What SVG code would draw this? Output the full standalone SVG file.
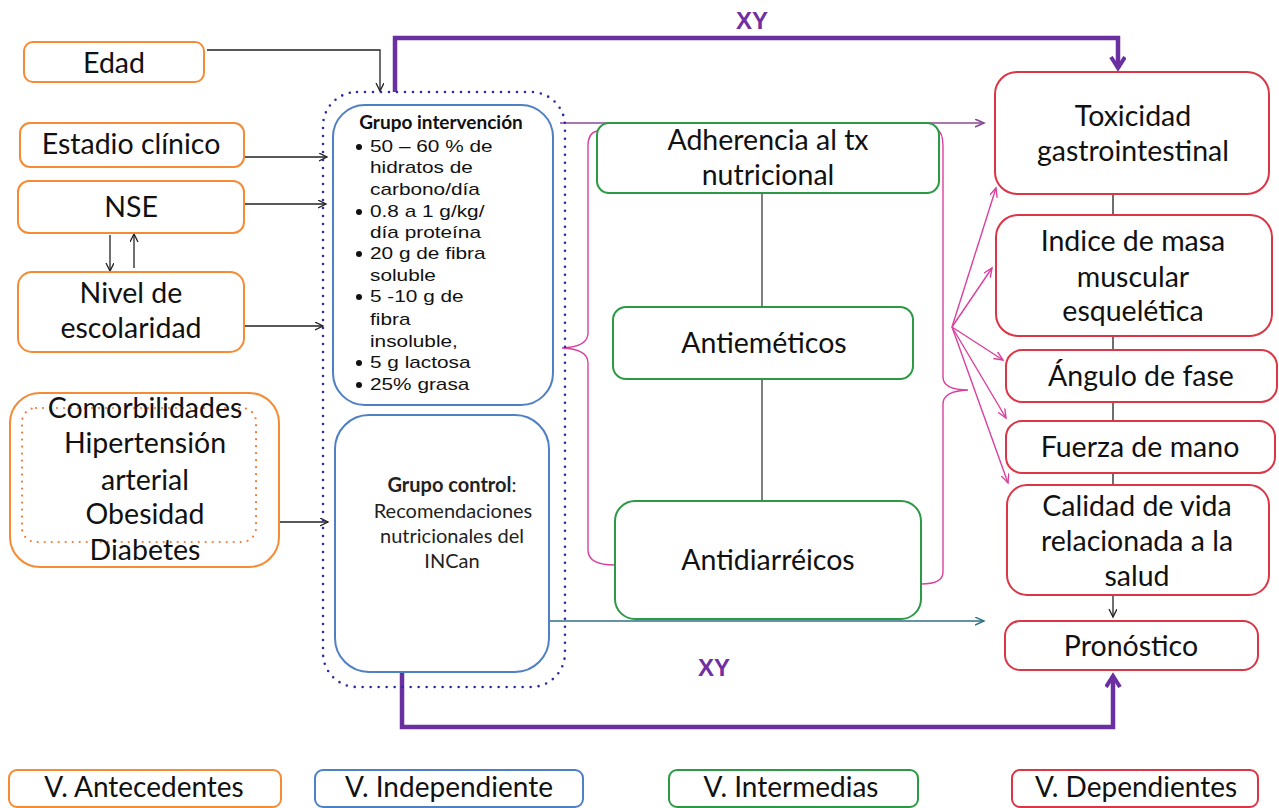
<svg xmlns="http://www.w3.org/2000/svg" width="1279" height="808" viewBox="0 0 1279 808">
<style>
.lbl{font-family:Lato,"Liberation Sans",sans-serif;font-size:28.5px;fill:#111;text-anchor:middle}
.leg{font-family:Lato,"Liberation Sans",sans-serif;font-size:28px;fill:#111;text-anchor:middle}
.bul{font-family:"Liberation Sans",Arial,sans-serif;font-size:16px;fill:#111}
.ctl{font-family:Lato,"Liberation Sans",sans-serif;font-size:20px;fill:#222;text-anchor:middle}
.xy{font-family:"Liberation Sans",Arial,sans-serif;font-size:24px;font-weight:bold;fill:#7030a0;text-anchor:middle}
.ora{fill:#fff;stroke:#f58b34;stroke-width:2}
.blu{fill:#fff;stroke:#4f7fc4;stroke-width:2}
.grn{fill:#fff;stroke:#2c9a45;stroke-width:2}
.red{fill:#fff;stroke:#dc3545;stroke-width:2}
.blk{fill:none;stroke:#222;stroke-width:1.3}
.gry{fill:none;stroke:#555;stroke-width:1.5}
.pnk{fill:none;stroke:#d9409e;stroke-width:1.4}
.thick{fill:none;stroke:#6a2fa0;stroke-width:4.5}
</style>
<defs>
<marker id="aBlk" markerWidth="10" markerHeight="10" refX="8" refY="4" orient="auto" markerUnits="userSpaceOnUse"><path d="M0,0 L8,4 L0,8" fill="none" stroke="#222" stroke-width="1.3"/></marker>
<marker id="aPnk" markerWidth="12" markerHeight="10" refX="9" refY="4" orient="auto" markerUnits="userSpaceOnUse"><path d="M0,0 L9,4 L0,8" fill="none" stroke="#d9409e" stroke-width="1.4"/></marker>
<marker id="aPur" markerWidth="12" markerHeight="10" refX="9" refY="4" orient="auto" markerUnits="userSpaceOnUse"><path d="M0,0 L9,4 L0,8" fill="none" stroke="#8a4a96" stroke-width="1.6"/></marker>
<marker id="aTea" markerWidth="12" markerHeight="10" refX="9" refY="4" orient="auto" markerUnits="userSpaceOnUse"><path d="M0,0 L9,4 L0,8" fill="none" stroke="#2f6f86" stroke-width="1.4"/></marker>
<marker id="aThk" markerWidth="20" markerHeight="20" refX="12" refY="8" orient="auto" markerUnits="userSpaceOnUse"><path d="M1,1 L12,8 L1,15" fill="none" stroke="#6a2fa0" stroke-width="4"/></marker>
</defs>

<g id="connectors">
  <path class="blk" d="M207,50 H380 V91" marker-end="url(#aBlk)"/>
  <path class="blk" d="M245,157 H327" marker-end="url(#aBlk)"/>
  <path class="blk" d="M245,204 H326" marker-end="url(#aBlk)"/>
  <path class="blk" d="M245,326 H323" marker-end="url(#aBlk)"/>
  <path class="blk" d="M279,522 H328" marker-end="url(#aBlk)"/>
  <path class="blk" d="M110,235 V271" marker-end="url(#aBlk)"/>
  <path class="blk" d="M134,268 V234" marker-end="url(#aBlk)"/>
  <path class="thick" d="M395,92 V38 H1118 V68" marker-end="url(#aThk)"/>
  <path class="thick" d="M402,673 V727 H1113 V676" marker-end="url(#aThk)"/>
  <path fill="none" stroke="#8a4a96" stroke-width="1.6" d="M560,123 H984" marker-end="url(#aPur)"/>
  <path fill="none" stroke="#2f6f86" stroke-width="1.4" d="M549,621 H984" marker-end="url(#aTea)"/>
  <path class="gry" d="M762,193 V307 M762,379 V501"/>
  <path class="pnk" d="M597,131 Q588,133 588,146 V333 Q588,347 562,348 Q588,349 588,363 V550 Q588,565 615,565"/>
  <path class="pnk" d="M937,130 Q943,132 943,146 V377 Q943,390 968,390 Q943,391 943,404 V572 Q943,584 921,584"/>
  <path class="pnk" d="M952,327 L996,188" marker-end="url(#aPnk)"/>
  <path class="pnk" d="M952,327 L992,268" marker-end="url(#aPnk)"/>
  <path class="pnk" d="M952,327 L1003,360" marker-end="url(#aPnk)"/>
  <path class="pnk" d="M952,327 L1006,418" marker-end="url(#aPnk)"/>
  <path class="pnk" d="M952,327 L1008,483" marker-end="url(#aPnk)"/>
  <path class="blk" d="M1113,195 V215 M1113,337 V350 M1113,402 V421 M1113,473 V485"/>
  <path class="blk" d="M1113,596 V617" marker-end="url(#aBlk)"/>
</g>

<text class="xy" x="752" y="29">XY</text>
<text class="xy" x="714" y="676">XY</text>

<g id="edad"><rect class="ora" x="24" y="42" width="180" height="40" rx="9"/><text class="lbl" x="114" y="73">Edad</text></g>
<g id="estadio"><rect class="ora" x="20" y="123" width="224" height="44" rx="10"/><text class="lbl" x="131" y="154">Estadio clínico</text></g>
<g id="nse"><rect class="ora" x="18" y="181" width="226" height="52" rx="11"/><text class="lbl" x="131" y="217">NSE</text></g>
<g id="nivel"><rect class="ora" x="18" y="272" width="226" height="80" rx="14"/><text class="lbl" x="131" y="303">Nivel de</text><text class="lbl" x="131" y="338">escolaridad</text></g>
<g id="comorbilidades">
  <rect class="ora" x="10" y="393" width="269" height="174" rx="30"/>
  <rect x="22" y="408" width="234" height="134" rx="14" fill="none" stroke="#f07a3a" stroke-width="2.2" stroke-dasharray="0 7" stroke-linecap="round"/>
  <text class="lbl" x="145" y="418">Comorbilidades</text>
  <text class="lbl" x="145" y="453">Hipertensión</text>
  <text class="lbl" x="145" y="490">arterial</text>
  <text class="lbl" x="145" y="524">Obesidad</text>
  <text class="lbl" x="145" y="560">Diabetes</text>
</g>

<g id="independiente">
  <rect x="323" y="92" width="242" height="595" rx="34" fill="none" stroke="#2b2ba3" stroke-width="2.6" stroke-dasharray="0 8" stroke-linecap="round"/>
  <g id="intervencion">
    <rect class="blu" x="333" y="105" width="220" height="300" rx="32"/>
    <text x="441" y="129" font-family="Lato,'Liberation Sans',sans-serif" font-weight="bold" font-size="19" fill="#111" text-anchor="middle">Grupo intervención</text>
    <g fill="#111">
      <circle cx="359" cy="147" r="3"/><circle cx="359" cy="212" r="3"/><circle cx="359" cy="254" r="3"/><circle cx="359" cy="297" r="3"/><circle cx="359" cy="363" r="3"/><circle cx="359" cy="385" r="3"/>
    </g>
    <g transform="translate(370,0) scale(1.3,1)">
      <text class="bul" x="0" y="152">50 – 60 % de</text>
      <text class="bul" x="0" y="173">hidratos de</text>
      <text class="bul" x="0" y="195">carbono/día</text>
      <text class="bul" x="0" y="217">0.8 a 1 g/kg/</text>
      <text class="bul" x="0" y="238">día proteína</text>
      <text class="bul" x="0" y="259">20 g de fibra</text>
      <text class="bul" x="0" y="281">soluble</text>
      <text class="bul" x="0" y="302">5 -10 g de</text>
      <text class="bul" x="0" y="325">fibra</text>
      <text class="bul" x="0" y="347">insoluble,</text>
      <text class="bul" x="0" y="368">5 g lactosa</text>
      <text class="bul" x="0" y="390">25% grasa</text>
    </g>
  </g>
  <g id="control">
    <rect class="blu" x="335" y="415" width="214" height="257" rx="34"/>
    <text class="ctl" x="452" y="492"><tspan font-weight="bold">Grupo control</tspan>:</text>
    <text class="ctl" x="453" y="518">Recomendaciones</text>
    <text class="ctl" x="452" y="543">nutricionales del</text>
    <text class="ctl" x="452" y="568">INCan</text>
  </g>
</g>

<g id="adherencia"><rect class="grn" x="597" y="123" width="342" height="70" rx="12"/><text class="lbl" x="768" y="150">Adherencia al tx</text><text class="lbl" x="768" y="185">nutricional</text></g>
<g id="antiemeticos"><rect class="grn" x="613" y="307" width="300" height="72" rx="13"/><text class="lbl" x="764" y="353">Antieméticos</text></g>
<g id="antidiarreicos"><rect class="grn" x="615" y="501" width="306" height="118" rx="20"/><text class="lbl" x="768" y="570">Antidiarréicos</text></g>

<g id="toxicidad"><rect class="red" x="995" y="72" width="274" height="122" rx="22"/><text class="lbl" x="1133" y="126">Toxicidad</text><text class="lbl" x="1133" y="161">gastrointestinal</text></g>
<g id="indice"><rect class="red" x="996" y="215" width="276" height="121" rx="22"/><text class="lbl" x="1133" y="251">Indice de masa</text><text class="lbl" x="1133" y="287">muscular</text><text class="lbl" x="1133" y="321">esquelética</text></g>
<g id="angulo"><rect class="red" x="1006" y="350" width="271" height="52" rx="16"/><text class="lbl" x="1141" y="386">Ángulo de fase</text></g>
<g id="fuerza"><rect class="red" x="1006" y="421" width="269" height="52" rx="16"/><text class="lbl" x="1140" y="457">Fuerza de mano</text></g>
<g id="calidad"><rect class="red" x="1007" y="485" width="262" height="110" rx="20"/><text class="lbl" x="1137" y="516">Calidad de vida</text><text class="lbl" x="1137" y="551">relacionada a la</text><text class="lbl" x="1137" y="586">salud</text></g>
<g id="pronostico"><rect class="red" x="1005" y="621" width="253" height="49" rx="15"/><text class="lbl" x="1131" y="656">Pronóstico</text></g>

<g id="legend-antecedentes"><rect class="ora" x="9" y="770" width="272" height="37" rx="8"/><text class="leg" x="144" y="797">V. Antecedentes</text></g>
<g id="legend-independiente"><rect class="blu" x="315" y="770" width="268" height="37" rx="8"/><text class="leg" x="449" y="797">V. Independiente</text></g>
<g id="legend-intermedias"><rect class="grn" x="669" y="770" width="249" height="37" rx="8"/><text class="leg" x="791" y="797">V. Intermedias</text></g>
<g id="legend-dependientes"><rect class="red" x="1012" y="770" width="246" height="37" rx="8"/><text class="leg" x="1136" y="797">V. Dependientes</text></g>
</svg>
